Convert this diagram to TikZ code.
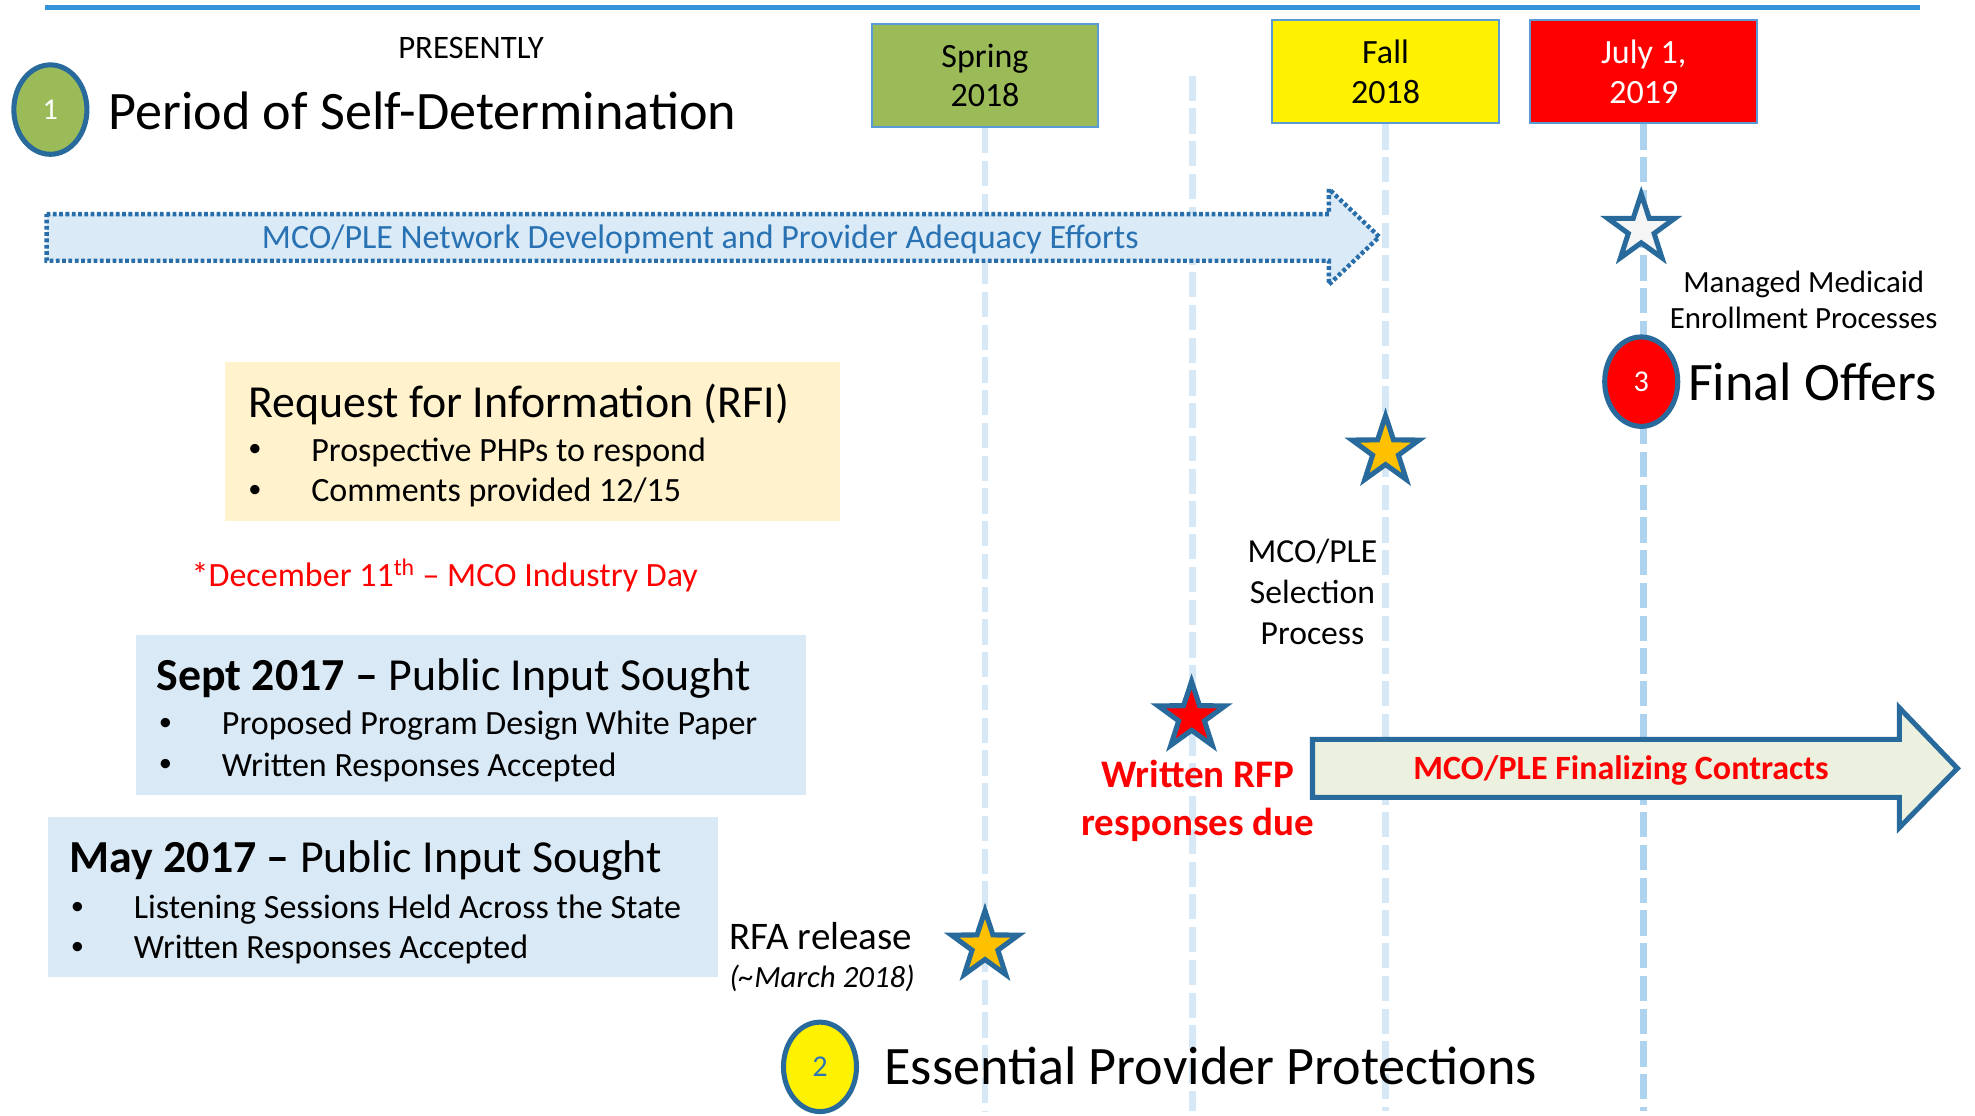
\documentclass[tikz,border=0pt]{standalone}
\usepackage{fontspec}
\setmainfont{Carlito}
\usetikzlibrary{shapes.geometric}

\definecolor{edgeblue}{RGB}{41,106,156}
\definecolor{topblue}{RGB}{52,148,218}
\definecolor{boxline}{RGB}{91,155,213}
\definecolor{springgreen}{RGB}{155,187,89}
\definecolor{effortfill}{RGB}{218,234,247}
\definecolor{effortline}{RGB}{40,110,170}
\definecolor{efforttext}{RGB}{40,113,178}
\definecolor{inputfill}{RGB}{218,233,246}
\definecolor{rfifill}{RGB}{255,242,204}
\definecolor{contractfill}{RGB}{235,241,222}
\definecolor{gold}{RGB}{255,192,0}
\definecolor{paleline}{RGB}{214,232,246}
\definecolor{midline}{RGB}{174,211,239}
\definecolor{numblue}{RGB}{46,117,182}

\begin{document}
\begin{tikzpicture}[x=1pt,y=-1pt,
  big/.style={font=\fontsize{43}{50}\selectfont, anchor=west, inner sep=0pt},
  heading/.style={font=\fontsize{36.4}{42}\selectfont, anchor=west, inner sep=0pt},
  body/.style={font=\fontsize{27}{31}\selectfont, anchor=west, inner sep=0pt},
  dot/.style={font=\fontsize{21}{25}\selectfont, anchor=west, inner sep=0pt},
  small/.style={font=\fontsize{24.5}{29}\selectfont, inner sep=0pt},
  datebox/.style={draw=boxline, line width=1.5pt, minimum width=180pt, minimum height=82pt,
    align=center, inner sep=0pt, font=\fontsize{27}{31}\selectfont},
  numdot/.style={ellipse, draw=edgeblue, line width=4pt, minimum width=58pt,
    minimum height=71pt, inner sep=0pt, font=\fontsize{24}{28}\selectfont},
  starmark/.style={star, star points=5, star point ratio=2.6, draw=edgeblue,
    line width=4pt, minimum size=56pt, inner sep=0pt},
  timeline/.style={line width=5.5pt, dash pattern=on 20pt off 6pt},
  panel/.style={minimum width=532pt, minimum height=127pt, inner sep=0pt, fill=inputfill}
]
\useasboundingbox (0,0) rectangle (1568,886);

% header rule
\coordinate (ruleL) at (36,6);
\coordinate (ruleR) at (1524,6);
\draw[topblue, line width=4pt] (ruleL) -- (ruleR);

% milestone boxes
\node[datebox, fill=springgreen] (spring) at (782,60) {Spring\\2018};
\node[datebox, fill=yellow] (fall) at (1100,57) {Fall\\2018};
\node[datebox, fill=red, text=white] (july) at (1305,57) {July 1,\\2019};

% vertical dashed guides
\coordinate (springend) at (782,882);
\coordinate (rfptop) at (947,60);
\coordinate (rfpend) at (947,882);
\coordinate (fallend) at (1100,882);
\coordinate (julyend) at (1305,882);
\draw[timeline, paleline] (spring.south) -- (springend);
\draw[timeline, paleline] (rfptop) -- (rfpend);
\draw[timeline, paleline] (fall.south) -- (fallend);
\draw[timeline, midline] (july.south) -- (julyend);

% phase 1
\node[font=\fontsize{26}{30}\selectfont, inner sep=0pt] (now) at (374,38) {PRESENTLY};
\node[numdot, fill=springgreen, text=white] (n1) at (40,87) {1};
\node[big] (t1) at (86,88) {Period of Self-Determination};

% network development arrow
\draw[effortline, line width=3.5pt, dash pattern=on 3pt off 2pt, fill=effortfill]
  (37,170) -- (1055,170) -- (1055,150) -- (1095,188) -- (1055,226) -- (1055,207) -- (37,207) -- cycle;
\node[body, anchor=center, text=efforttext] (efforts) at (556,190)
  {MCO/PLE Network Development and Provider Adequacy Efforts};

% enrollment and final offers
\node[starmark, fill=white!96!black] (enroll) at (1303,182) {};
\node[small, align=center] (enrolltext) at (1432,238) {Managed Medicaid\\Enrollment Processes};
\node[numdot, fill=red, text=white] (n3) at (1303,303) {3};
\node[big] (t3) at (1340,303) {Final Offers};

% request for information
\node[minimum width=488pt, minimum height=127pt, inner sep=0pt, fill=rfifill] (rfi) at (423,350.5) {};
\node[heading] (rfititle) at (197,321) {Request for Information (RFI)};
\node[dot] (rfib1) at (197,358) {•};
\node[body] (rfit1) at (247,359) {Prospective PHPs to respond};
\node[dot] (rfib2) at (197,390) {•};
\node[body] (rfit2) at (247,391) {Comments provided 12/15};
\node[body, text=red] (industry) at (152,457) {*December 11\textsuperscript{th} – MCO Industry Day};

% public input panels
\node[panel] (sept) at (374,567.5) {};
\node[heading] (septtitle) at (124,539) {\textbf{Sept 2017 –} Public Input Sought};
\node[dot] (septb1) at (126,575) {•};
\node[body] (septt1) at (176,576) {Proposed Program Design White Paper};
\node[dot] (septb2) at (126,608) {•};
\node[body] (septt2) at (176,609) {Written Responses Accepted};

\node[panel] (may) at (304,712.5) {};
\node[heading] (maytitle) at (55,683) {\textbf{May 2017 –} Public Input Sought};
\node[dot] (mayb1) at (56,721) {•};
\node[body] (mayt1) at (106,722) {Listening Sessions Held Across the State};
\node[dot] (mayb2) at (56,753) {•};
\node[body] (mayt2) at (106,754) {Written Responses Accepted};

% selection process
\node[starmark, fill=gold] (select) at (1100,358) {};
\node[font=\fontsize{26.7}{32.5}\selectfont, align=center, inner sep=0pt] (selecttext) at (1042,470)
  {MCO/PLE\\Selection\\Process};

% written RFP responses
\node[starmark, fill=red] (rfp) at (946,569) {};
\node[font=\bfseries\fontsize{31}{38}\selectfont, text=red, align=center, inner sep=0pt] (rfptext)
  at (951,636) {Written RFP\\responses due};

% contract arrow
\draw[edgeblue, line width=4pt, fill=contractfill]
  (1042,587) -- (1508,587) -- (1508,562) -- (1554,610) -- (1508,657) -- (1508,633) -- (1042,633) -- cycle;
\node[font=\bfseries\fontsize{27}{31}\selectfont, text=red, inner sep=0pt] (contracts) at (1287,612)
  {MCO/PLE Finalizing Contracts};

% RFA release
\node[font=\fontsize{31}{36}\selectfont, anchor=west, inner sep=0pt] (rfa) at (579,743) {RFA release};
\node[font=\itshape\fontsize{24.5}{29}\selectfont, anchor=west, inner sep=0pt] (rfadate) at (579,777)
  {(\textasciitilde March 2018)};
\node[starmark, fill=gold] (rfastar) at (782,751) {};

% phase 2
\node[numdot, fill=yellow, text=numblue] (n2) at (651,847) {2};
\node[big] (t2) at (702,846) {Essential Provider Protections};
\end{tikzpicture}
\end{document}
